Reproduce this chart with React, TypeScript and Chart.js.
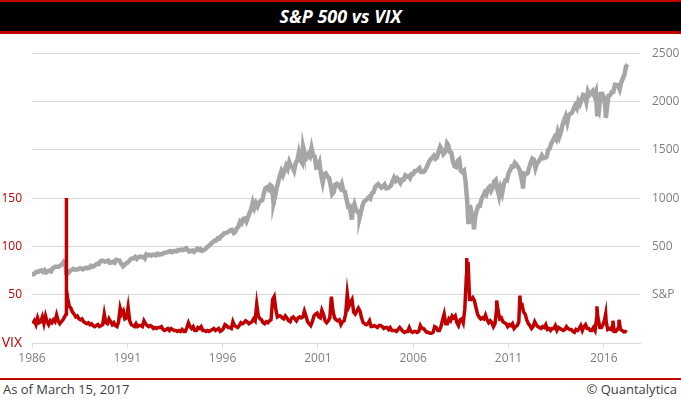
import React, { useEffect, useRef } from "react";
import { Chart, registerables } from "chart.js";

Chart.register(...registerables);

const TITLE = "S&P 500 vs VIX";
const FOOT_LEFT = "As of March 15, 2017";
const FOOT_RIGHT = "© Quantalytica";

const YEAR_TICKS = [1986, 1991, 1996, 2001, 2006, 2011, 2016];

// S&P 500 month-end closes, Jan 1986 .. Mar 2017 (last = mid-March 2017)
const SPX_START = 211;
const SPX_MONTHLY = [
  // 1986
  211.8, 226.9, 238.9, 235.5, 247.4, 250.8, 236.1, 252.9, 231.3, 244.0, 249.2, 242.2,
  // 1987
  274.1, 284.2, 291.7, 288.4, 290.1, 304.0, 318.7, 329.8, 321.8, 251.8, 230.3, 247.1,
  // 1988
  257.1, 267.8, 258.9, 261.3, 262.2, 273.5, 272.0, 261.5, 271.9, 279.0, 273.7, 277.7,
  // 1989
  297.5, 288.9, 294.9, 309.6, 320.5, 318.0, 346.1, 351.5, 349.2, 340.4, 346.0, 353.4,
  // 1990
  329.1, 331.9, 339.9, 330.8, 361.2, 358.0, 356.2, 322.6, 306.1, 304.0, 322.2, 330.2,
  // 1991
  343.9, 367.1, 375.2, 375.3, 389.8, 371.2, 387.8, 395.4, 387.9, 392.5, 375.2, 417.1,
  // 1992
  408.8, 412.7, 403.7, 415.0, 415.4, 408.1, 424.2, 414.0, 417.8, 418.7, 431.4, 435.7,
  // 1993
  438.8, 443.4, 451.7, 440.2, 450.2, 451.0, 448.1, 463.6, 458.9, 467.8, 461.8, 466.5,
  // 1994
  481.6, 467.1, 445.8, 450.9, 456.5, 444.3, 458.3, 475.5, 462.7, 472.4, 453.7, 459.3,
  // 1995
  470.4, 487.4, 500.7, 514.7, 533.4, 544.8, 562.1, 561.9, 584.4, 581.5, 605.4, 615.9,
  // 1996
  636.0, 640.4, 645.5, 654.2, 669.1, 670.6, 640.0, 652.0, 687.3, 705.3, 757.0, 740.7,
  // 1997
  786.2, 790.8, 757.1, 801.3, 848.3, 885.1, 954.3, 899.5, 947.3, 914.6, 955.4, 970.4,
  // 1998
  980.3, 1049.3, 1101.8, 1111.8, 1090.8, 1133.8, 1120.7, 957.3, 1017.0, 1098.7, 1163.6, 1229.2,
  // 1999
  1279.6, 1238.3, 1286.4, 1335.2, 1301.8, 1372.7, 1328.7, 1320.4, 1282.7, 1362.9, 1389.0, 1469.3,
  // 2000
  1394.5, 1366.4, 1498.6, 1452.4, 1420.6, 1454.6, 1430.8, 1517.7, 1436.5, 1429.4, 1315.2, 1320.3,
  // 2001
  1366.0, 1239.9, 1160.3, 1249.5, 1255.8, 1224.4, 1211.2, 1133.6, 1040.9, 1059.8, 1139.5, 1148.1,
  // 2002
  1130.2, 1106.7, 1147.4, 1076.9, 1067.1, 989.8, 911.6, 916.1, 815.3, 885.8, 936.3, 879.8,
  // 2003
  855.7, 841.2, 848.2, 916.9, 963.6, 974.5, 990.3, 1008.0, 996.0, 1050.7, 1058.2, 1111.9,
  // 2004
  1131.1, 1144.9, 1126.2, 1107.3, 1120.7, 1140.8, 1101.7, 1104.2, 1114.6, 1130.2, 1173.8, 1211.9,
  // 2005
  1181.3, 1203.6, 1180.6, 1156.9, 1191.5, 1191.3, 1234.2, 1220.3, 1228.8, 1207.0, 1249.5, 1248.3,
  // 2006
  1280.1, 1280.7, 1294.8, 1310.6, 1270.1, 1270.2, 1276.7, 1303.8, 1335.9, 1377.9, 1400.6, 1418.3,
  // 2007
  1438.2, 1406.8, 1420.9, 1482.4, 1530.6, 1503.4, 1455.3, 1474.0, 1526.8, 1549.4, 1481.1, 1468.4,
  // 2008
  1378.6, 1330.6, 1322.7, 1385.6, 1400.4, 1280.0, 1267.4, 1282.8, 1166.4, 968.8, 896.2, 903.3,
  // 2009
  825.9, 735.1, 797.9, 872.8, 919.1, 919.3, 987.5, 1020.6, 1057.1, 1036.2, 1095.6, 1115.1,
  // 2010
  1073.9, 1104.5, 1169.4, 1186.7, 1089.4, 1030.7, 1101.6, 1049.3, 1141.2, 1183.3, 1180.6, 1257.6,
  // 2011
  1286.1, 1327.2, 1325.8, 1363.6, 1345.2, 1320.6, 1292.3, 1218.9, 1131.4, 1253.3, 1247.0, 1257.6,
  // 2012
  1312.4, 1365.7, 1408.5, 1397.9, 1310.3, 1362.2, 1379.3, 1406.6, 1440.7, 1412.2, 1416.2, 1426.2,
  // 2013
  1498.1, 1514.7, 1569.2, 1597.6, 1630.7, 1606.3, 1685.7, 1633.0, 1681.6, 1756.5, 1805.8, 1848.4,
  // 2014
  1782.6, 1859.5, 1872.3, 1884.0, 1923.6, 1960.2, 1930.7, 2003.4, 1972.3, 2018.1, 2067.6, 2058.9,
  // 2015
  1995.0, 2104.5, 2067.9, 2085.5, 2107.4, 2063.1, 2103.8, 1972.2, 1920.0, 2079.4, 2080.4, 2043.9,
  // 2016
  1940.2, 1932.2, 2059.7, 2065.3, 2097.0, 2098.9, 2173.6, 2171.0, 2168.3, 2126.2, 2198.8, 2238.8,
  // 2017
  2278.9, 2363.6, 2385.0,
];

// intra-month S&P extremes [decimal year, value]
const SPX_EXTREMES: [number, number][] = [
  [1987.65, 336], [1987.8, 224], [1990.78, 295], [1998.68, 957], [2000.22, 1527],
  [2002.78, 777], [2003.19, 800], [2007.78, 1565], [2008.89, 752], [2009.19, 677],
  [2010.51, 1022], [2011.76, 1099], [2015.65, 1867], [2016.11, 1829],
];

// VIX (VXO) monthly levels, Jan 1986 .. Mar 2017
const VIX_MONTHLY = [
  // 1986
  20, 23, 19, 26, 21, 22, 27, 20, 28, 22, 19, 23,
  // 1987
  21, 24, 22, 29, 23, 20, 22, 24, 27, 70, 46, 38,
  // 1988
  36, 32, 30, 27, 28, 25, 24, 25, 22, 21, 20, 21,
  // 1989
  19, 20, 18, 17, 18, 19, 17, 18, 19, 30, 21, 20,
  // 1990
  25, 22, 19, 21, 18, 17, 22, 36, 30, 33, 25, 26,
  // 1991
  37, 23, 19, 18, 17, 20, 17, 18, 18, 17, 23, 20,
  // 1992
  18, 17, 18, 17, 15, 16, 15, 16, 16, 17, 14, 13,
  // 1993
  14, 15, 13, 15, 14, 13, 13, 12, 13, 12, 14, 12,
  // 1994
  12, 16, 21, 17, 15, 17, 13, 13, 16, 15, 17, 13,
  // 1995
  13, 12, 13, 12, 13, 14, 15, 13, 14, 15, 12, 13,
  // 1996
  15, 19, 18, 16, 16, 15, 22, 18, 17, 16, 18, 21,
  // 1997
  20, 21, 23, 22, 20, 21, 22, 25, 23, 40, 28, 25,
  // 1998
  24, 21, 20, 22, 21, 23, 24, 45, 48, 35, 27, 28,
  // 1999
  28, 26, 25, 28, 26, 23, 22, 26, 27, 25, 23, 26,
  // 2000
  27, 26, 27, 33, 28, 22, 20, 18, 22, 28, 30, 31,
  // 2001
  27, 26, 34, 30, 23, 21, 23, 26, 48, 33, 26, 24,
  // 2002
  23, 24, 19, 22, 23, 30, 51, 38, 42, 45, 32, 30,
  // 2003
  33, 36, 33, 26, 21, 20, 19, 20, 23, 17, 17, 18,
  // 2004
  17, 16, 18, 18, 17, 15, 16, 16, 14, 16, 13, 13,
  // 2005
  13, 12, 14, 16, 14, 12, 11, 12, 12, 16, 12, 11,
  // 2006
  12, 12, 11, 12, 18, 15, 15, 13, 11, 11, 10, 10,
  // 2007
  11, 17, 16, 13, 13, 17, 24, 30, 20, 20, 25, 23,
  // 2008
  28, 26, 28, 21, 18, 24, 25, 21, 35, 70, 60, 45,
  // 2009
  45, 47, 44, 37, 30, 27, 25, 26, 25, 29, 24, 21,
  // 2010
  23, 21, 17, 20, 35, 33, 25, 26, 22, 21, 20, 17,
  // 2011
  19, 18, 20, 15, 17, 18, 22, 40, 40, 32, 30, 24,
  // 2012
  20, 18, 15, 17, 22, 19, 17, 16, 15, 17, 16, 19,
  // 2013
  14, 15, 13, 15, 15, 18, 13, 16, 15, 14, 13, 14,
  // 2014
  17, 15, 14, 14, 12, 11, 14, 13, 15, 18, 13, 17,
  // 2015
  19, 15, 15, 13, 13, 16, 13, 26, 25, 16, 16, 19,
  // 2016
  24, 22, 14, 15, 14, 18, 12, 12, 14, 17, 14, 13,
  // 2017
  11.5, 12, 11,
];

// VIX spike days [decimal year, value]
const VIX_EXTREMES: [number, number][] = [
  [1987.785, 30], [1987.797, 150], [1987.805, 112], [1987.81, 95], [1987.83, 55],
  [2008.8, 88], [2008.82, 80], [2008.88, 84], [2010.38, 44], [2011.6, 49],
  [2015.64, 38], [2015.67, 30], [2016.1, 30], [2016.48, 23], [2016.8, 24],
];

function buildSeries(monthly: number[], offset: number, extremes: [number, number][], first?: number) {
  const pts = monthly.map((v, i) => ({ x: 1986 + (i + offset) / 12, y: v }));
  if (first !== undefined) pts.unshift({ x: 1986, y: first });
  extremes.forEach(([x, y]) => pts.push({ x, y }));
  pts.sort((a, b) => a.x - b.x);
  return pts;
}

const FONT = "'Open Sans', 'Noto Sans', sans-serif";

function ChartBox() {
  const ref = useRef<HTMLCanvasElement | null>(null);
  useEffect(() => {
    if (!ref.current) return;
    const spx = buildSeries(SPX_MONTHLY, 1, SPX_EXTREMES, SPX_START);
    const vix = buildSeries(VIX_MONTHLY, 0.5, VIX_EXTREMES);
    const chart = new Chart(ref.current, {
      type: "line",
      data: {
        datasets: [
          {
            label: "VIX",
            data: vix,
            yAxisID: "yL",
            borderColor: "#C00000",
            borderWidth: 3.5,
            pointRadius: 0,
            tension: 0,
            fill: false,
          },
          {
            label: "S&P",
            data: spx,
            yAxisID: "yR",
            borderColor: "#A6A6A6",
            borderWidth: 4.5,
            pointRadius: 0,
            tension: 0,
            fill: false,
          },
        ],
      },
      options: {
        responsive: false,
        animation: false,
        events: [],
        layout: { padding: { top: 16, left: 0, right: 0, bottom: 0 } },
        plugins: { legend: { display: false }, tooltip: { enabled: false }, title: { display: false } },
        scales: {
          x: {
            type: "linear",
            min: 1986,
            max: 2017.9,
            afterBuildTicks: (s: any) => {
              s.ticks = YEAR_TICKS.map((v) => ({ value: v }));
            },
            afterFit: (s: any) => {
              s.height = 35;
            },
            ticks: {
              autoSkip: false,
              maxRotation: 0,
              padding: 3,
              color: "#7F7F7F",
              font: { family: FONT, size: 12 },
              callback: (v: any) => String(v),
            },
            grid: { drawOnChartArea: false, drawTicks: true, tickLength: 5, color: "#D9D9D9" },
            border: { display: true, color: "#D9D9D9" },
          },
          yL: {
            type: "linear",
            position: "left",
            min: 0,
            max: 300,
            afterFit: (s: any) => {
              s.width = 32;
            },
            ticks: {
              stepSize: 50,
              padding: 10,
              color: "#C00000",
              font: (c: any) => ({ family: FONT, size: c.tick && c.tick.value === 0 ? 14 : 12 }),
              callback: (v: any) => (v === 0 ? "VIX" : v <= 150 ? String(v) : ""),
            },
            grid: { color: "#D9D9D9", drawTicks: false },
            border: { display: false },
          },
          yR: {
            type: "linear",
            position: "right",
            min: -500,
            max: 2500,
            afterFit: (s: any) => {
              s.width = 41;
            },
            ticks: {
              stepSize: 500,
              padding: 12,
              color: "#7F7F7F",
              font: { family: FONT, size: 12 },
              callback: (v: any) => (v < 0 ? "" : v === 0 ? "S&P" : String(v)),
            },
            grid: { display: false, drawTicks: false },
            border: { display: false },
          },
        },
      },
    } as any);
    return () => chart.destroy();
  }, []);
  return <canvas ref={ref} width={681} height={344} style={{ display: "block", width: 681, height: 344 }} />;
}

export default function App() {
  useEffect(() => {
    document.body.style.margin = "0";
  }, []);
  return (
    <div style={{ width: 681, height: 399, background: "#fff", overflow: "hidden", fontFamily: FONT }}>
      <div
        style={{
          boxSizing: "border-box",
          height: 34,
          borderTop: "2px solid #C00000",
          borderBottom: "3px solid #C00000",
          background: "#000",
          color: "#fff",
          textAlign: "center",
          fontWeight: 700,
          fontStyle: "italic",
          fontSize: 18,
          lineHeight: "29px",
        }}
      >
        {TITLE}
      </div>
      <ChartBox />
      <div
        style={{
          boxSizing: "border-box",
          height: 21,
          borderTop: "2px solid #C00000",
          display: "flex",
          justifyContent: "space-between",
          alignItems: "center",
          padding: "0 4px 0 3px",
          fontSize: 13,
          color: "#404040",
          lineHeight: "19px",
        }}
      >
        <span>{FOOT_LEFT}</span>
        <span>{FOOT_RIGHT}</span>
      </div>
    </div>
  );
}
